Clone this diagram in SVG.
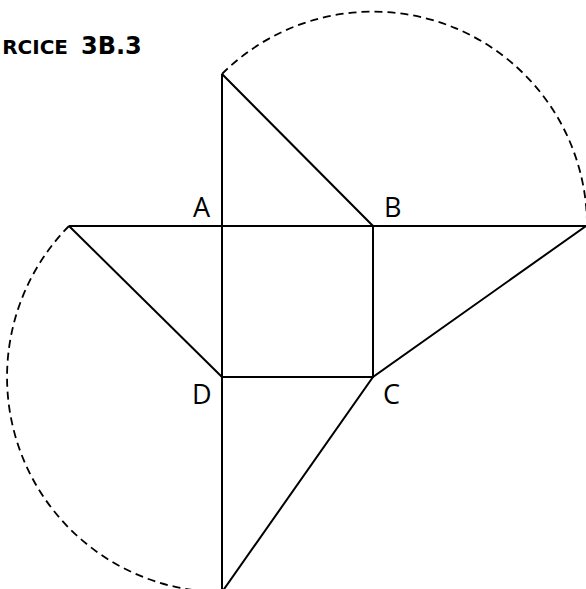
<svg xmlns="http://www.w3.org/2000/svg" width="586" height="589" viewBox="0 0 586 589">
<style>
.ln{stroke:#000;stroke-width:2;fill:none;stroke-linecap:butt;stroke-linejoin:miter}
.ds{stroke:#000;stroke-width:1.8;fill:none;stroke-dasharray:8 5}
.lb{font-family:"Open Sans","DejaVu Sans",sans-serif;font-size:27px;fill:#000}
.tt{font-family:"DejaVu Sans","Liberation Sans",sans-serif;font-weight:bold;fill:#000}
</style>
<rect width="586" height="589" fill="#fff"/>
<g id="title">
<text class="tt" x="68" y="54" text-anchor="end" font-size="20">RCICE</text>
<text class="tt" x="81" y="54" font-size="24">3B.3</text>
</g>
<g id="arcs">
<path class="ds" d="M222,74 A214,214 0 0 1 587,226"/>
<path class="ds" d="M69,226 A215,215 0 0 0 222,592"/>
</g>
<g id="lines">
<path class="ln" d="M222,74 L222,592"/>
<path class="ln" d="M69,226 L586,226"/>
<path class="ln" d="M222,74 L373,226 L373,377 L222,377"/>
<path class="ln" d="M69,226 L222,377"/>
<path class="ln" d="M586,226 L373,377 L222,592"/>
</g>
<g id="A"><text class="lb" x="193" y="217">A</text></g>
<g id="B"><text class="lb" x="384" y="217">B</text></g>
<g id="C"><text class="lb" x="383" y="404">C</text></g>
<g id="D"><text class="lb" x="192" y="404">D</text></g>
</svg>
